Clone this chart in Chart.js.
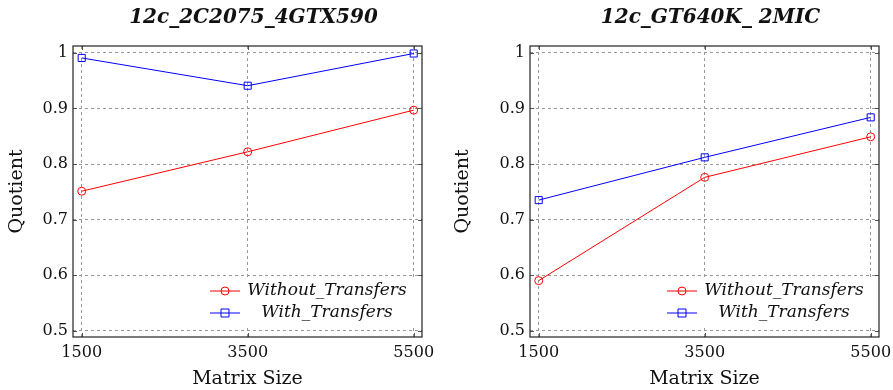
<!DOCTYPE html>
<html>
<head>
<meta charset="utf-8">
<script src="https://cdn.jsdelivr.net/npm/chart.js@4"></script>
<style>
  body { margin: 0; background: #fff; }
  .wrap { position: absolute; top: 0; }
</style>
</head>
<body>
<div class="wrap" style="left:0"><canvas id="left" width="446" height="390"></canvas></div>
<div class="wrap" style="left:446px"><canvas id="right" width="447" height="390"></canvas></div>
<script>
// chart data
const matrixSizes = [1500, 3500, 5500];
const yTickValues = [0.5, 0.6, 0.7, 0.8, 0.9, 1];
const seriesNames = ['Without_Transfers', 'With_Transfers'];

const leftTitle = '12c_2C2075_4GTX590';
const leftWithout = [0.751, 0.822, 0.897];
const leftWith = [0.991, 0.941, 0.999];

const rightTitle = '12c_GT640K_ 2MIC';
const rightWithout = [0.590, 0.776, 0.849];
const rightWith = [0.735, 0.812, 0.884];

const serif = "'DejaVu Serif', 'Liberation Serif', serif";

// draws title, frame, inner ticks and the legend inside the plot
const framePlugin = {
  id: 'frame',
  afterDatasetsDraw(chart, args, opts) {
    const ctx = chart.ctx;
    const a = chart.chartArea;
    const xs = chart.scales.x, ys = chart.scales.y;
    ctx.save();

    // inner tick marks
    ctx.strokeStyle = '#555';
    ctx.lineWidth = 1;
    ctx.beginPath();
    matrixSizes.forEach(v => {
      const px = Math.round(xs.getPixelForValue(v)) + 0.5;
      ctx.moveTo(px, a.bottom); ctx.lineTo(px, a.bottom - 4);
      ctx.moveTo(px, a.top); ctx.lineTo(px, a.top + 4);
    });
    yTickValues.forEach(v => {
      const py = Math.round(ys.getPixelForValue(v)) + 0.5;
      ctx.moveTo(a.left, py); ctx.lineTo(a.left + 4, py);
      ctx.moveTo(a.right, py); ctx.lineTo(a.right - 4, py);
    });
    ctx.stroke();

    // legend
    const lw = 213, lh = 50;
    const lx = a.right - lw - 4, ly = a.bottom - lh - 9;
    ctx.fillStyle = '#fff';
    ctx.fillRect(lx, ly, lw, lh);
    chart.data.datasets.forEach((ds, i) => {
      const cy = ly + 13 + i * 22;
      ctx.strokeStyle = ds.borderColor;
      ctx.lineWidth = 1;
      ctx.beginPath();
      ctx.moveTo(lx + 5, cy); ctx.lineTo(lx + 35, cy);
      ctx.stroke();
      ctx.beginPath();
      if (ds.pointStyle === 'rect') {
        ctx.rect(lx + 20 - 4, cy - 4, 8, 8);
      } else {
        ctx.arc(lx + 20, cy, 4, 0, Math.PI * 2);
      }
      ctx.stroke();
      ctx.fillStyle = '#111';
      ctx.font = 'italic 17px ' + serif;
      ctx.textAlign = 'center';
      ctx.textBaseline = 'middle';
      ctx.fillText(ds.label, lx + 122, cy);
    });

    // frame
    ctx.strokeStyle = '#222';
    ctx.lineWidth = 1.2;
    ctx.strokeRect(a.left, a.top, a.right - a.left, a.bottom - a.top);

    // title
    ctx.fillStyle = '#111';
    ctx.font = 'bold italic 20px ' + serif;
    ctx.textAlign = 'center';
    ctx.textBaseline = 'middle';
    ctx.fillText(opts.text, (a.left + a.right) / 2 + 6, 18);
    ctx.restore();
  }
};

function makeChart(id, title, without, withT, yWidth, padRight) {
  const toPoints = arr => arr.map((v, i) => ({ x: matrixSizes[i], y: v }));
  return new Chart(document.getElementById(id), {
    type: 'line',
    data: {
      datasets: [{
        label: seriesNames[0],
        data: toPoints(without),
        borderColor: '#ff0000',
        backgroundColor: 'transparent',
        borderWidth: 1,
        pointStyle: 'circle',
        pointRadius: 4,
        pointBorderWidth: 1,
        pointBackgroundColor: 'transparent',
        tension: 0
      }, {
        label: seriesNames[1],
        data: toPoints(withT),
        borderColor: '#0000ff',
        backgroundColor: 'transparent',
        borderWidth: 1,
        pointStyle: 'rect',
        pointRadius: 5,
        pointBorderWidth: 1,
        pointBackgroundColor: 'transparent',
        tension: 0
      }]
    },
    options: {
      responsive: false,
      animation: false,
      layout: { padding: { top: 46, right: padRight, left: 0, bottom: 0 } },
      plugins: {
        legend: { display: false },
        tooltip: { enabled: false },
        frame: { text: title }
      },
      scales: {
        x: {
          type: 'linear',
          min: 1395,
          max: 5600,
          afterBuildTicks: s => { s.ticks = matrixSizes.map(v => ({ value: v })); },
          afterFit: s => { s.height = 53; s.paddingLeft = 0; s.paddingRight = 0; },
          border: { display: false, dash: [3, 3] },
          grid: { color: '#999', drawTicks: false },
          ticks: {
            padding: 6,
            color: '#111',
            font: { family: serif, size: 16 },
            callback: v => String(v)
          },
          title: {
            display: true,
            text: 'Matrix Size',
            color: '#111',
            font: { family: serif, size: 19 },
            padding: { top: 4, bottom: 0 }
          }
        },
        y: {
          min: 0.4885,
          max: 1.0125,
          afterBuildTicks: s => { s.ticks = yTickValues.map(v => ({ value: v })); },
          afterFit: s => { s.width = yWidth; s.paddingTop = 0; s.paddingBottom = 0; },
          border: { display: false, dash: [3, 3] },
          grid: { color: '#999', drawTicks: false },
          ticks: {
            padding: 5,
            color: '#111',
            font: { family: serif, size: 16 },
            callback: v => (v === 1 ? '1' : v.toFixed(1))
          },
          title: {
            display: true,
            text: 'Quotient',
            color: '#111',
            font: { family: serif, size: 19 },
            padding: { top: 6, bottom: 0 }
          }
        }
      }
    },
    plugins: [framePlugin]
  });
}

const leftChart = makeChart('left', leftTitle, leftWithout, leftWith, 73, 24);
const rightChart = makeChart('right', rightTitle, rightWithout, rightWith, 84, 14);
</script>
</body>
</html>
